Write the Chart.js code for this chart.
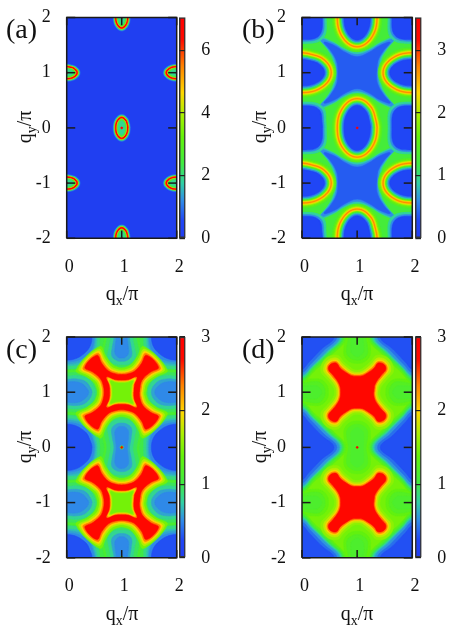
<!DOCTYPE html>
<html>
<head>
<meta charset="utf-8">
<script src="https://cdn.jsdelivr.net/npm/chart.js@4"></script>
<style>
html, body { margin: 0; padding: 0; background: #fff; }
#page { position: relative; width: 463px; height: 637px; overflow: hidden; font-family: "Liberation Serif", serif; color: #111; }
canvas { position: absolute; }
.tag { position: absolute; font-size: 28px; line-height: 28px; }
.ax { position: absolute; font-size: 20px; line-height: 20px; white-space: nowrap; transform: translate(-50%, -50%); }
.ax.v { transform: translate(-50%, -50%) rotate(-90deg); }
.ax sub { font-size: 14px; line-height: 0; }
</style>
</head>
<body>
<div id="page">
  <canvas id="heatA" width="190" height="290" style="left:0;top:0"></canvas>
  <canvas id="heatB" width="190" height="290" style="left:235px;top:0"></canvas>
  <canvas id="heatC" width="190" height="290" style="left:0;top:320px"></canvas>
  <canvas id="heatD" width="190" height="290" style="left:235px;top:320px"></canvas>
  <canvas id="barA" width="50" height="290" style="left:175px;top:0"></canvas>
  <canvas id="barB" width="50" height="290" style="left:411px;top:0"></canvas>
  <canvas id="barC" width="50" height="290" style="left:175px;top:320px"></canvas>
  <canvas id="barD" width="50" height="290" style="left:411px;top:320px"></canvas>

  <div class="tag" style="left:6px;top:15px">(a)</div>
  <div class="tag" style="left:242px;top:15px">(b)</div>
  <div class="tag" style="left:6px;top:335px">(c)</div>
  <div class="tag" style="left:242px;top:335px">(d)</div>

  <div class="ax" style="left:122px;top:293px">q<sub>x</sub>/π</div>
  <div class="ax" style="left:357px;top:293px">q<sub>x</sub>/π</div>
  <div class="ax" style="left:122px;top:613px">q<sub>x</sub>/π</div>
  <div class="ax" style="left:357px;top:613px">q<sub>x</sub>/π</div>
  <div class="ax v" style="left:24px;top:127px">q<sub>y</sub>/π</div>
  <div class="ax v" style="left:259px;top:127px">q<sub>y</sub>/π</div>
  <div class="ax v" style="left:24px;top:447px">q<sub>y</sub>/π</div>
  <div class="ax v" style="left:259px;top:447px">q<sub>y</sub>/π</div>
</div>

<script>
// axis ticks
const xTicks = [0, 1, 2];
const yTicks = [-2, -1, 0, 1, 2];
const barTicksA = [0, 2, 4, 6];
const barTicksB = [0, 1, 2, 3];
const barTicksCD = [0, 1, 2, 3];
const barMaxA = 7.04;
const barMaxB = 3.52;
const barMaxCD = 3;

// centres of the features, in units of pi
const upright = [[1, 0], [1, 2], [1, -2]];
const turned = [[0, 1], [2, 1], [0, -1], [2, -1]];
const corners = [[0, 0], [2, 0], [0, 2], [2, 2], [0, -2], [2, -2]];
const middles = [[1, 1], [1, -1]];

// contour levels: z value, then a quarter outline (dx, dy from the centre)
// panel (a)
const aRings = [
  [0.8, [[0.158, 0], [0.112, 0.175], [0, 0.247]]],
  [1.6, [[0.146, 0], [0.104, 0.165], [0, 0.235]]],
  [2.5, [[0.134, 0], [0.095, 0.155], [0, 0.221]]],
  [4.0, [[0.125, 0], [0.089, 0.149], [0, 0.211]]],
  [5.3, [[0.12, 0], [0.085, 0.144], [0, 0.204]]],
  [7.0, [[0.116, 0], [0.082, 0.14], [0, 0.198]]],
  [5.3, [[0.088, 0], [0.062, 0.119], [0, 0.168]]],
  [4.0, [[0.084, 0], [0.06, 0.115], [0, 0.163]]],
  [2.6, [[0.079, 0], [0.056, 0.111], [0, 0.157]]],
  [1.9, [[0.06, 0], [0.042, 0.09], [0, 0.13]]],
  [7.0, [[0.018, 0], [0.013, 0.013], [0, 0.018]]]
];

// panel (b)
const bBackground = 1.25;
const bStars = [
  [0.85, [[0.42, 0], [0.44, 0.24], [0.54, 0.42], [0.72, 0.66], [0.44, 0.56], [0.24, 0.44], [0, 0.37]]],
  [0.6, [[0.38, 0], [0.4, 0.22], [0.51, 0.41], [0.67, 0.61], [0.43, 0.53], [0.22, 0.4], [0, 0.33]]],
  [0.38, [[0.35, 0], [0.37, 0.2], [0.48, 0.4], [0.6, 0.55], [0.41, 0.49], [0.2, 0.36], [0, 0.29]]]
];
const bCorners = [
  [0.9, [[0.44, 0], [0.38, 0.38], [0, 0.47]]],
  [0.6, [[0.4, 0], [0.34, 0.35], [0, 0.43]]],
  [0.28, [[0.37, 0], [0.31, 0.33], [0, 0.4]]]
];
const bRings = [
  [1.45, [[0.45, 0], [0.32, 0.44], [0, 0.62]]],
  [1.7, [[0.42, 0], [0.298, 0.418], [0, 0.59]]],
  [2.0, [[0.4, 0], [0.283, 0.403], [0, 0.57]]],
  [2.3, [[0.385, 0], [0.272, 0.392], [0, 0.555]]],
  [2.55, [[0.372, 0], [0.263, 0.383], [0, 0.542]]],
  [2.75, [[0.36, 0], [0.255, 0.375], [0, 0.53]]],
  [2.55, [[0.348, 0], [0.246, 0.366], [0, 0.518]]],
  [2.3, [[0.337, 0], [0.239, 0.358], [0, 0.507]]],
  [2.0, [[0.325, 0], [0.23, 0.35], [0, 0.495]]],
  [1.6, [[0.315, 0], [0.223, 0.343], [0, 0.485]]],
  [1.2, [[0.3, 0], [0.212, 0.332], [0, 0.47]]],
  [0.85, [[0.285, 0], [0.2, 0.32], [0, 0.455]]],
  [0.55, [[0.265, 0], [0.187, 0.307], [0, 0.435]]],
  [0.28, [[0.24, 0], [0.17, 0.29], [0, 0.41]]],
  [3.52, [[0.018, 0], [0.013, 0.013], [0, 0.018]]]
];

// panel (c)
const cBackground = 1.22;
const cCorners = [
  [1.1, [[0.72, 0], [0.6, 0.54], [0, 0.7]]],
  [1.0, [[0.68, 0], [0.56, 0.5], [0, 0.66]]],
  [0.85, [[0.6, 0], [0.49, 0.43], [0, 0.58]]],
  [0.7, [[0.55, 0], [0.43, 0.38], [0, 0.52]]],
  [0.6, [[0.52, 0], [0.4, 0.35], [0, 0.49]]],
  [0.5, [[0.5, 0], [0.38, 0.32], [0, 0.45]]],
  [0.28, [[0.46, 0], [0.34, 0.28], [0, 0.42]]]
];
const cPeanuts = [
  [1.12, [[0.31, 0], [0.35, 0.18], [0.38, 0.38], [0.24, 0.56], [0, 0.6]]],
  [0.95, [[0.27, 0], [0.3, 0.18], [0.33, 0.38], [0.2, 0.53], [0, 0.56]]],
  [0.8, [[0.2, 0], [0.23, 0.18], [0.25, 0.36], [0.15, 0.48], [0, 0.5]]],
  [0.6, [[0.14, 0], [0.17, 0.18], [0.18, 0.34], [0.1, 0.42], [0, 0.44]]],
  [0.5, [[0.1, 0], [0.12, 0.18], [0.12, 0.3], [0.06, 0.37], [0, 0.38]]],
  [1.2, [[0.03, 0], [0.021, 0.021], [0, 0.03]]],
  [3.0, [[0.018, 0], [0.013, 0.013], [0, 0.018]]]
];
const cSides = [
  [1.12, [[0.62, 0], [0.5, 0.3], [0.25, 0.4], [0, 0.4]]],
  [0.95, [[0.58, 0], [0.46, 0.26], [0.22, 0.35], [0, 0.35]]],
  [0.8, [[0.52, 0], [0.42, 0.22], [0.2, 0.3], [0, 0.29]]],
  [0.6, [[0.46, 0], [0.36, 0.18], [0.18, 0.24], [0, 0.23]]],
  [0.5, [[0.4, 0], [0.3, 0.14], [0.15, 0.19], [0, 0.18]]]
];
const cCross = [
  [1.45, [[0.44, 0], [0.455, 0.08], [0.505, 0.175], [0.64, 0.28], [0.83, 0.4], [0.4, 0.83], [0.28, 0.64], [0.175, 0.505], [0.08, 0.455], [0, 0.44]]],
  [1.7, [[0.4, 0], [0.415, 0.09], [0.465, 0.195], [0.6, 0.3], [0.78, 0.42], [0.42, 0.78], [0.3, 0.6], [0.195, 0.465], [0.09, 0.415], [0, 0.4]]],
  [2.0, [[0.37, 0], [0.385, 0.1], [0.435, 0.21], [0.57, 0.32], [0.74, 0.43], [0.43, 0.74], [0.32, 0.57], [0.21, 0.435], [0.1, 0.385], [0, 0.37]]],
  [2.35, [[0.345, 0], [0.36, 0.11], [0.41, 0.225], [0.545, 0.34], [0.705, 0.44], [0.44, 0.705], [0.34, 0.545], [0.225, 0.41], [0.11, 0.36], [0, 0.345]]],
  [2.8, [[0.32, 0], [0.335, 0.12], [0.385, 0.24], [0.52, 0.36], [0.67, 0.45], [0.45, 0.67], [0.36, 0.52], [0.24, 0.385], [0.12, 0.335], [0, 0.32]]],
  [2.35, [[0.21, 0], [0.22, 0.13], [0.27, 0.27], [0.13, 0.22], [0, 0.21]]],
  [2.0, [[0.195, 0], [0.205, 0.12], [0.25, 0.25], [0.12, 0.205], [0, 0.195]]],
  [1.65, [[0.18, 0], [0.19, 0.11], [0.22, 0.22], [0.11, 0.19], [0, 0.18]]],
  [1.45, [[0.165, 0], [0.17, 0.1], [0.2, 0.2], [0.1, 0.17], [0, 0.165]]]
];

// panel (d)
const dBackground = 1.45;
const dBlobs = [
  [1.35, [[0.22, 0], [0.24, 0.2], [0.23, 0.34], [0.13, 0.45], [0, 0.48]]],
  [1.22, [[0.16, 0], [0.19, 0.2], [0.18, 0.32], [0.09, 0.4], [0, 0.42]]],
  [1.15, [[0.11, 0], [0.12, 0.2], [0.11, 0.28], [0.05, 0.34], [0, 0.36]]],
  [3.0, [[0.018, 0], [0.013, 0.013], [0, 0.018]]]
];
const dDiamonds = [
  [1.3, [[0.8, 0], [0.52, 0.34], [0.22, 0.62], [0, 0.82]]],
  [1.15, [[0.77, 0], [0.5, 0.32], [0.2, 0.6], [0, 0.8]]],
  [1.02, [[0.75, 0], [0.48, 0.31], [0.2, 0.58], [0, 0.77]]],
  [0.88, [[0.73, 0], [0.46, 0.3], [0.19, 0.56], [0, 0.745]]],
  [0.75, [[0.71, 0], [0.45, 0.29], [0.18, 0.55], [0, 0.72]]],
  [0.65, [[0.69, 0], [0.43, 0.285], [0.175, 0.54], [0, 0.7]]],
  [0.55, [[0.67, 0], [0.42, 0.28], [0.17, 0.53], [0, 0.68]]],
  [0.4, [[0.63, 0], [0.39, 0.25], [0.15, 0.5], [0, 0.64]]],
  [0.28, [[0.58, 0], [0.35, 0.22], [0.12, 0.46], [0, 0.58]]]
];
const dCross = [
  [1.55, [[0.41, 0], [0.42, 0.065], [0.46, 0.135], [0.55, 0.24], [0.66, 0.39], [0.57, 0.61], [0.36, 0.67], [0.24, 0.55], [0.135, 0.46], [0.065, 0.41], [0, 0.4]]],
  [1.75, [[0.37, 0], [0.38, 0.075], [0.42, 0.155], [0.51, 0.26], [0.61, 0.4], [0.54, 0.57], [0.37, 0.62], [0.26, 0.51], [0.155, 0.42], [0.075, 0.37], [0, 0.36]]],
  [2.0, [[0.34, 0], [0.35, 0.085], [0.39, 0.17], [0.48, 0.28], [0.57, 0.405], [0.52, 0.54], [0.375, 0.58], [0.28, 0.48], [0.17, 0.39], [0.085, 0.34], [0, 0.33]]],
  [2.35, [[0.32, 0], [0.33, 0.09], [0.37, 0.18], [0.46, 0.29], [0.545, 0.41], [0.505, 0.52], [0.38, 0.555], [0.29, 0.46], [0.18, 0.37], [0.09, 0.32], [0, 0.31]]],
  [2.8, [[0.3, 0], [0.31, 0.1], [0.35, 0.19], [0.44, 0.31], [0.52, 0.41], [0.49, 0.5], [0.38, 0.53], [0.31, 0.44], [0.19, 0.35], [0.1, 0.3], [0, 0.29]]]
];

// colour map
const mapStops = [0, 0.08, 0.17, 0.25, 0.34, 0.46, 0.56, 0.66, 0.78, 0.9, 1];
const mapColours = [
  [32, 60, 240], [32, 70, 245], [48, 140, 232], [48, 208, 165], [64, 235, 64], [100, 242, 10],
  [170, 240, 0], [255, 215, 0], [255, 130, 0], [255, 10, 0], [255, 0, 0]
];

function colourAt(t) {
  t = Math.min(1, Math.max(0, t));
  let i = 0;
  while (i < mapStops.length - 2 && t > mapStops[i + 1]) i++;
  const f = (t - mapStops[i]) / (mapStops[i + 1] - mapStops[i]);
  const c = mapColours[i].map((v, k) => Math.round(v + (mapColours[i + 1][k] - v) * f));
  return `rgb(${c[0]},${c[1]},${c[2]})`;
}

// quarter outline -> closed outline around one centre
function closedOutline(quarter, centre, swap) {
  const pts = quarter.slice();
  for (let i = quarter.length - 2; i >= 0; i--) pts.push([-quarter[i][0], quarter[i][1]]);
  for (let i = 1; i < quarter.length; i++) pts.push([-quarter[i][0], -quarter[i][1]]);
  for (let i = quarter.length - 2; i >= 0; i--) pts.push([quarter[i][0], -quarter[i][1]]);
  pts.push(pts[1]);
  return pts.map(p => swap
    ? { x: centre[0] + p[1], y: centre[1] + p[0] }
    : { x: centre[0] + p[0], y: centre[1] + p[1] });
}

function layerSets(levels, centres, swap, zMax) {
  const sets = [];
  levels.forEach(level => {
    centres.forEach(c => {
      const col = colourAt(level[0] / zMax);
      sets.push({
        data: closedOutline(level[1], c, swap),
        showLine: true,
        fill: 'shape',
        backgroundColor: col,
        borderColor: col,
        borderWidth: 0.6,
        tension: 0.4,
        pointRadius: 0
      });
    });
  });
  return sets;
}

// flat filled box for the panel background
function backgroundSet(z, zMax) {
  return {
    data: [{ x: 0, y: -2 }, { x: 2, y: -2 }, { x: 2, y: 2 }, { x: 0, y: 2 }, { x: 0, y: -2 }],
    showLine: true,
    fill: 'shape',
    backgroundColor: colourAt(z / zMax),
    borderWidth: 0,
    pointRadius: 0
  };
}

// inward tick marks and the frame go on top of the colours
function frameSets() {
  const sets = [];
  const line = d => ({
    data: d, showLine: true, fill: false, borderColor: '#1a1a1a', borderWidth: 1.5,
    pointRadius: 0, tension: 0, clip: false
  });
  yTicks.forEach(v => {
    sets.push(line([{ x: 0, y: v }, { x: 0.155, y: v }]));
    sets.push(line([{ x: 2, y: v }, { x: 1.845, y: v }]));
  });
  xTicks.forEach(v => {
    sets.push(line([{ x: v, y: -2 }, { x: v, y: -1.86 }]));
    sets.push(line([{ x: v, y: 2 }, { x: v, y: 1.86 }]));
  });
  sets.push(line([{ x: 0, y: -2 }, { x: 2, y: -2 }, { x: 2, y: 2 }, { x: 0, y: 2 }, { x: 0, y: -2 }]));
  return sets;
}

function drawHeat(id, layers, yWidth, right, top) {
  const sets = layers.concat(frameSets());
  // later entries paint over earlier ones
  sets.forEach((s, i) => { s.order = -i; });
  return new Chart(document.getElementById(id), {
    type: 'scatter',
    data: { datasets: sets },
    options: {
      responsive: false,
      animation: false,
      layout: { padding: { top: top, right: right, left: 0, bottom: 0 } },
      plugins: { legend: { display: false }, tooltip: { enabled: false } },
      scales: {
        x: {
          type: 'linear', min: 0, max: 2,
          grid: { display: false, drawTicks: false }, border: { display: false },
          afterFit: s => { s.height = 290 - top - 220.8; s.paddingLeft = 0; s.paddingRight = 0; },
          ticks: {
            stepSize: 1, padding: 18, labelOffset: 2.6, maxRotation: 0,
            color: '#111', font: { family: 'Liberation Serif', size: 18 }
          }
        },
        y: {
          type: 'linear', min: -2, max: 2,
          grid: { display: false, drawTicks: false }, border: { display: false },
          afterFit: s => { s.width = yWidth; s.paddingTop = 0; s.paddingBottom = 0; },
          ticks: {
            stepSize: 1, padding: 16,
            color: '#111', font: { family: 'Liberation Serif', size: 18 }
          }
        }
      }
    }
  });
}

function drawBar(id, zMax, tickList, top) {
  return new Chart(document.getElementById(id), {
    type: 'bar',
    data: {
      labels: ['z'],
      datasets: [{
        data: [[0, zMax]],
        barPercentage: 1,
        categoryPercentage: 1,
        borderColor: '#333',
        borderWidth: 1.5,
        borderSkipped: false,
        clip: false,
        backgroundColor: ctx => {
          const area = ctx.chart.chartArea;
          if (!area) return '#fff';
          const g = ctx.chart.ctx.createLinearGradient(0, area.bottom, 0, area.top);
          mapStops.forEach((t, i) => g.addColorStop(t, colourAt(t)));
          return g;
        }
      }]
    },
    options: {
      responsive: false,
      animation: false,
      layout: { padding: { top: top, left: 4.3, right: 0, bottom: 290 - top - 220.8 } },
      plugins: { legend: { display: false }, tooltip: { enabled: false } },
      scales: {
        x: { display: false },
        y: {
          position: 'right', min: 0, max: zMax,
          afterFit: s => { s.width = 39.7; s.paddingTop = 0; s.paddingBottom = 0; },
          afterBuildTicks: s => { s.ticks = tickList.map(v => ({ value: v })); },
          border: { display: false },
          grid: { color: '#222', lineWidth: 1.2, drawTicks: false, z: 1 },
          ticks: { padding: 16, color: '#111', font: { family: 'Liberation Serif', size: 18 } }
        }
      }
    }
  });
}

const layersA = [].concat(
  backgroundSet(0.15, barMaxA),
  layerSets(aRings, upright, false, barMaxA),
  layerSets(aRings, turned, true, barMaxA)
);
const layersB = [].concat(
  backgroundSet(bBackground, barMaxB),
  layerSets(bStars, middles, false, barMaxB),
  layerSets(bCorners, corners, false, barMaxB),
  layerSets(bRings, upright, false, barMaxB),
  layerSets(bRings, turned, true, barMaxB)
);
const layersC = [].concat(
  backgroundSet(cBackground, barMaxCD),
  layerSets(cCorners, corners, false, barMaxCD),
  layerSets(cPeanuts, upright, false, barMaxCD),
  layerSets(cSides, turned, false, barMaxCD),
  layerSets(cCross, middles, false, barMaxCD)
);
const layersD = [].concat(
  backgroundSet(dBackground, barMaxCD),
  layerSets(dBlobs, upright, false, barMaxCD),
  layerSets(dBlobs.slice(0, 3), turned, true, barMaxCD),
  layerSets(dDiamonds, corners, false, barMaxCD),
  layerSets(dCross, middles, false, barMaxCD)
);

drawHeat('heatA', layersA, 66.7, 13.3, 17.5);
drawHeat('heatB', layersB, 67, 12.7, 17.5);
drawHeat('heatC', layersC, 66.7, 13.3, 17);
drawHeat('heatD', layersD, 67, 12.7, 17);
drawBar('barA', barMaxA, barTicksA, 17.5);
drawBar('barB', barMaxB, barTicksB, 17.5);
drawBar('barC', barMaxCD, barTicksCD, 17);
drawBar('barD', barMaxCD, barTicksCD, 17);
</script>
</body>
</html>
